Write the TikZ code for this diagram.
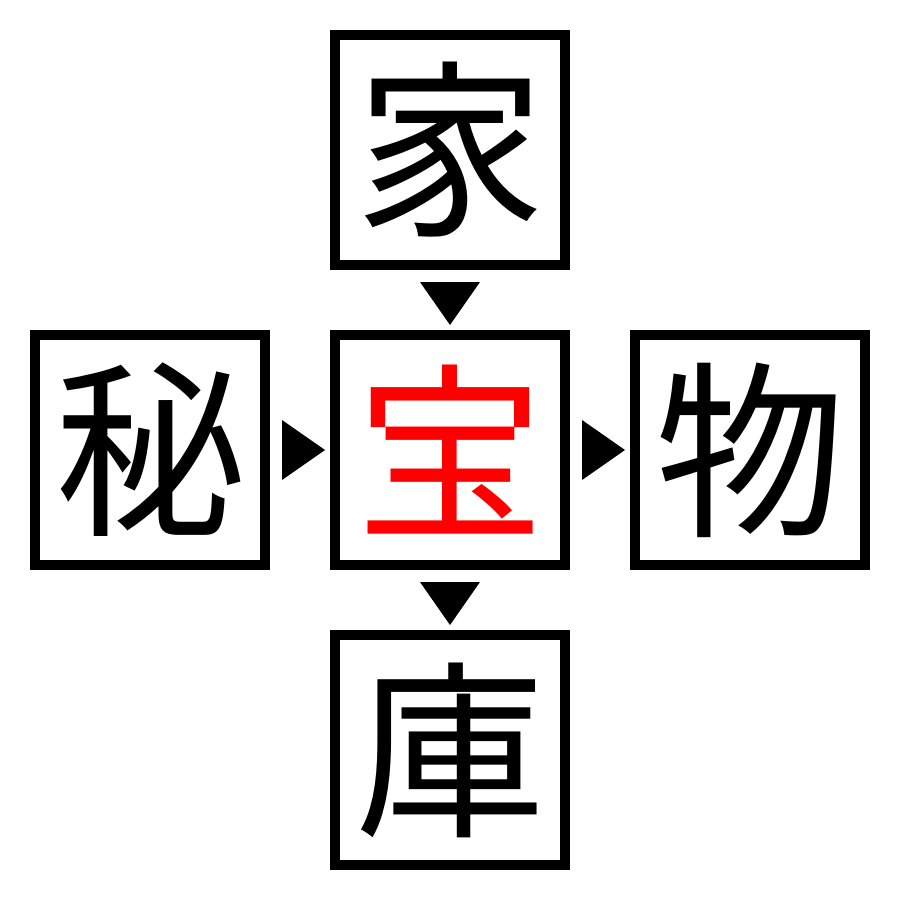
\documentclass[tikz,border=0pt]{standalone}
\usepackage{fontspec}
\newfontfamily\cjk{Noto Sans CJK JP}
\begin{document}
\begin{tikzpicture}[x=0.01cm,y=-0.01cm,
  cell/.style={draw=black,line width=10*0.2835pt,minimum size=230*0.2835pt,inner sep=0pt,
    font=\cjk\fontsize{54}{54}\selectfont},
  tri/.style={fill=black,draw=none}]
\useasboundingbox (0,0) rectangle (900,900);
\node[cell] (top) at (450,150) {家};
\node[cell] (left) at (150,450) {秘};
\node[cell,text=red] (mid) at (450,450) {宝};
\node[cell] (right) at (750,450) {物};
\node[cell] (bot) at (450,750) {庫};
\fill[tri] (420,282) -- (480,282) -- (450,325) -- cycle;
\fill[tri] (420,582) -- (480,582) -- (450,625) -- cycle;
\fill[tri] (282,420) -- (282,480) -- (325,450) -- cycle;
\fill[tri] (582,420) -- (582,480) -- (625,450) -- cycle;
\end{tikzpicture}
\end{document}
